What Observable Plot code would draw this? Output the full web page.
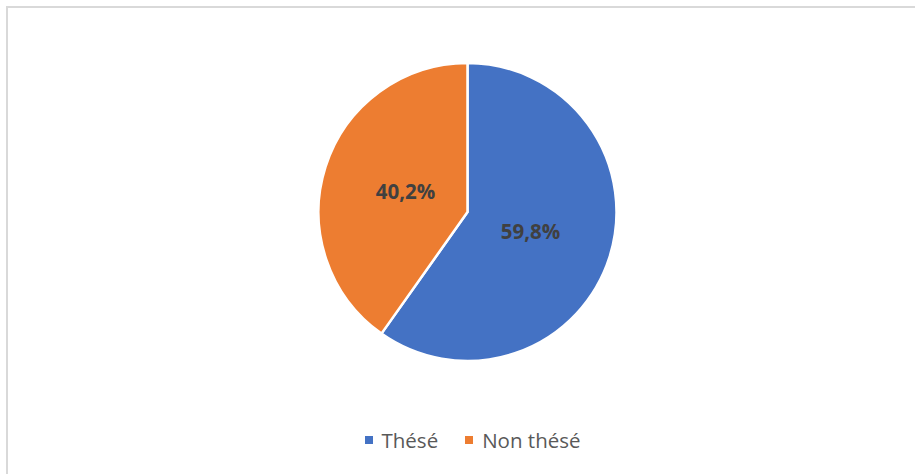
<!DOCTYPE html>
<html>
<head>
<meta charset="utf-8">
<script src="https://cdn.jsdelivr.net/npm/d3@7"></script>
<script src="https://cdn.jsdelivr.net/npm/@observablehq/plot@0.6"></script>
<style>
  html, body { margin: 0; padding: 0; background: #fff; overflow: hidden; width: 915px; height: 474px; }
  #frame { position: absolute; left: 6px; top: 6px; width: 960px; height: 520px; border-top: 2px solid #d9d9d9; border-left: 2px solid #d9d9d9; box-sizing: border-box; }
  #chart { position: absolute; left: 0; top: 0; }
  #legend { position: absolute; left: 0; top: 426px; width: 945px; display: flex; justify-content: center; gap: 27px; font-family: "Open Sans", sans-serif; font-size: 20.5px; color: #595959; }
  #legend .item { display: flex; align-items: center; }
  #legend .sw { width: 8px; height: 8px; margin-right: 9px; }
</style>
</head>
<body>
<div id="frame"></div>
<div id="chart"></div>
<div id="legend"></div>
<script>
const categories = ["Thésé", "Non thésé"];
const values = [59.8, 40.2];
const labels = ["59,8%", "40,2%"];
const colors = ["#4472C4", "#ED7D31"];

const data = categories.map((c, i) => ({category: c, value: values[i], label: labels[i], color: colors[i]}));
const arcs = d3.pie().sort(null).value(d => d.value)(data);
const labelPts = arcs.map(a => {
  const mid = (a.startAngle + a.endAngle) / 2;
  return {x: 0.44 * Math.sin(mid), y: 0.44 * Math.cos(mid), text: a.data.label};
});

const W = 915, H = 420;
const pieMark = (index, scales) => {
  const x = scales.x, y = scales.y;
  const cx = x(0), cy = y(0), r = x(1) - x(0);
  const g = d3.create("svg:g").attr("transform", `translate(${cx},${cy})`);
  const arc = d3.arc().innerRadius(0).outerRadius(r);
  g.selectAll("path").data(arcs).join("path")
    .attr("d", arc)
    .attr("fill", d => d.data.color)
    .attr("stroke", "#fff")
    .attr("stroke-width", 2.5)
    .attr("stroke-linejoin", "round");
  return g.node();
};

const plot = Plot.plot({
  width: W,
  height: H,
  marginLeft: 318.5,
  marginRight: 298.5,
  marginTop: 63,
  marginBottom: H - 361,
  x: {domain: [-1, 1], axis: null},
  y: {domain: [-1, 1], axis: null},
  style: {background: "transparent", overflow: "visible"},
  marks: [
    pieMark,
    Plot.text(labelPts, {x: "x", y: "y", text: "text", fill: "#404040", fontSize: 20.5, fontWeight: "bold", fontFamily: "Open Sans, sans-serif"})
  ]
});
document.getElementById("chart").appendChild(plot);

const leg = document.getElementById("legend");
data.forEach(d => {
  const item = document.createElement("div");
  item.className = "item";
  const sw = document.createElement("span");
  sw.className = "sw";
  sw.style.background = d.color;
  const t = document.createElement("span");
  t.textContent = d.category;
  item.appendChild(sw);
  item.appendChild(t);
  leg.appendChild(item);
});
</script>
</body>
</html>
